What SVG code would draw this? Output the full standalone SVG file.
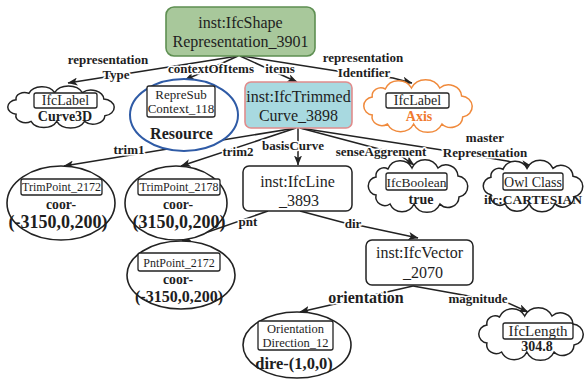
<svg xmlns="http://www.w3.org/2000/svg" xmlns:xlink="http://www.w3.org/1999/xlink" width="585" height="379" viewBox="0 0 585 379">
<style>
text{font-family:"Liberation Serif","Times New Roman",serif;fill:#1e1e1e;text-anchor:middle}
.nt{font-size:16px}
.in{font-size:14px}
.sm{font-size:12px}
.bv{font-weight:bold;font-size:14px}
.bb{font-weight:bold;font-size:17px}
.lbl{font-weight:bold;font-size:13px;stroke:#fff;stroke-width:3;paint-order:stroke;stroke-linejoin:round}
.edge{fill:none;stroke:#222;stroke-width:1.5;marker-end:url(#arr)}
.box{fill:#fff;stroke:#222;stroke-width:1.5}
.ib{fill:#fff;stroke:#222;stroke-width:1.3}
.ell{fill:#fff;stroke:#222;stroke-width:1.6}
.cloud{fill:#fff;stroke:#222;stroke-width:1.5}
</style>
<defs>
<marker id="arr" viewBox="0 0 10 8" refX="9.5" refY="4" markerWidth="10" markerHeight="8" orient="auto" markerUnits="userSpaceOnUse">
<path d="M0,0 L10,4 L0,8 L2.5,4 z" fill="#222"/>
</marker>
<path id="cloudShape" vector-effect="non-scaling-stroke" d="M-42,-9 A8,8 0 0 1 -30,-17 A13.2,13.2 0 0 1 -6,-18 A14.3,14.3 0 0 1 20,-18 A12,12 0 0 1 40,-10 A10.6,10.6 0 0 1 41,11 A11,11 0 0 1 22,18 A14.3,14.3 0 0 1 -4,18 A13.2,13.2 0 0 1 -28,18 A9,9 0 0 1 -42,9 A9.1,9.1 0 0 1 -42,-9 Z"/>
</defs>
<rect width="585" height="379" fill="#fff"/>

<g id="connectors">
<path class="edge" d="M238,56 L68,83"/>
<path class="edge" d="M238,56 L185,80"/>
<path class="edge" d="M240,56 L297,82"/>
<path class="edge" d="M242,56 L337,71 L393,78 L412,83"/>
<path class="edge" d="M296,128 L64,166"/>
<path class="edge" d="M296,128 L181,166"/>
<path class="edge" d="M298,128 L298,165"/>
<path class="edge" d="M300,128 L398,154 L414,165"/>
<path class="edge" d="M300,128 L442,150 L507,161 L531,166"/>
<path class="edge" d="M268,211 L182,241"/>
<path class="edge" d="M300,211 L345,223 L362,226 L418,238"/>
<path class="edge" d="M413,286 L300,312"/>
<path class="edge" d="M413,286 L452,293 L508,303 L528,312"/>
<text class="lbl" x="108" y="63.5">representation</text>
<text class="lbl" x="116" y="79">Type</text>
<text class="lbl" x="211" y="73">contextOfItems</text>
<text class="lbl" x="280" y="73">items</text>
<text class="lbl" x="363" y="61.5">representation</text>
<text class="lbl" x="364" y="77">Identifier</text>
<text class="lbl" x="129" y="154">trim1</text>
<text class="lbl" x="238" y="156">trim2</text>
<text class="lbl" x="293" y="150">basisCurve</text>
<text class="lbl" x="381" y="156">senseAggrement</text>
<text class="lbl" x="485" y="141.5">master</text>
<text class="lbl" x="485" y="157">Representation</text>
<text class="lbl" x="248" y="226">pnt</text>
<text class="lbl" x="353" y="228">dir</text>
<text class="lbl" x="366" y="303" style="font-size:16px">orientation</text>
<text class="lbl" x="478" y="303">magnitude</text>
</g>

<g id="ifcShapeRepresentation">
<rect x="166" y="7" width="149" height="49" rx="8" fill="#a8c89b" stroke="#5e8f52" stroke-width="1.6"/>
<text class="nt" x="240.5" y="28">inst:IfcShape</text>
<text class="nt" x="240.5" y="47">Representation_3901</text>
</g>

<g id="curve3D">
<use href="#cloudShape" class="cloud" transform="translate(61,107) scale(1.07,0.8)"/>
<rect class="ib" x="34" y="93" width="63" height="15" rx="2"/>
<text class="in" x="65.5" y="105">IfcLabel</text>
<text class="bv" x="65" y="121">Curve3D</text>
</g>

<g id="resource">
<ellipse cx="184" cy="115" rx="54" ry="36" fill="#fff" stroke="#2f5ba6" stroke-width="2"/>
<rect class="ib" x="147" y="86" width="68" height="31" rx="2"/>
<text class="in" x="181" y="98.5" style="font-size:13px">RepreSub</text>
<text class="in" x="181" y="113" style="font-size:13px">Context_118</text>
<text class="bb" x="181.5" y="139" style="font-size:16px">Resource</text>
</g>

<g id="ifcTrimmedCurve">
<rect x="245" y="82" width="107" height="46" rx="6" fill="#a8d9e0" stroke="#e08c8c" stroke-width="1.6"/>
<text class="nt" x="298.5" y="102">inst:IfcTrimmed</text>
<text class="nt" x="298.5" y="121">Curve_3898</text>
</g>

<g id="axis">
<use href="#cloudShape" class="cloud" style="stroke:#f08a3c" transform="translate(418,106) scale(1.09,1)"/>
<rect class="ib" x="386" y="93" width="63" height="15" rx="2"/>
<text class="in" x="417.5" y="105">IfcLabel</text>
<text class="bv" x="419" y="121" style="fill:#f07a2e">Axis</text>
</g>

<g id="trimPoint2172">
<ellipse class="ell" cx="61" cy="203" rx="54" ry="37"/>
<rect class="ib" x="21" y="179" width="81" height="16" rx="2"/>
<text class="sm" x="61.5" y="191">TrimPoint_2172</text>
<text class="bb" x="61" y="209" style="font-size:15px" textLength="30" lengthAdjust="spacingAndGlyphs">coor-</text>
<text class="bb" x="58" y="228" style="font-size:18px">(-3150,0,200)</text>
</g>

<g id="trimPoint2178">
<ellipse class="ell" cx="176" cy="203" rx="51" ry="37"/>
<rect class="ib" x="138" y="179" width="82" height="16" rx="2"/>
<text class="sm" x="179" y="191">TrimPoint_2178</text>
<text class="bb" x="178" y="209" style="font-size:15px" textLength="30" lengthAdjust="spacingAndGlyphs">coor-</text>
<text class="bb" x="179" y="228" style="font-size:18px">(3150,0,200)</text>
</g>

<g id="ifcLine">
<rect class="box" x="243" y="166" width="109" height="45" rx="6"/>
<text class="nt" x="297.5" y="187">inst:IfcLine</text>
<text class="nt" x="299" y="206">_3893</text>
</g>

<g id="ifcBoolean">
<use href="#cloudShape" class="cloud" transform="translate(418,186)"/>
<rect class="ib" x="386" y="173" width="61" height="17" rx="2"/>
<text class="in" x="416.5" y="187" style="font-size:13.5px">IfcBoolean</text>
<text class="bv" x="421" y="204">true</text>
</g>

<g id="owlClass">
<use href="#cloudShape" class="cloud" transform="translate(533,186) scale(1,0.98)"/>
<rect class="ib" x="503" y="173" width="60" height="17" rx="2"/>
<text class="in" x="533" y="187">Owl Class</text>
<text class="bv" x="533" y="204" style="font-size:13.5px">ifc:CARTESIAN</text>
</g>

<g id="pntPoint2172">
<ellipse class="ell" cx="181" cy="275" rx="54" ry="34"/>
<rect class="ib" x="138" y="253" width="82" height="18" rx="2"/>
<text class="sm" x="179" y="267">PntPoint_2172</text>
<text class="bb" x="178" y="284" style="font-size:15px" textLength="30" lengthAdjust="spacingAndGlyphs">coor-</text>
<text class="bb" x="179" y="302" style="font-size:16px">(-3150,0,200)</text>
</g>

<g id="ifcVector">
<rect class="box" x="366" y="240" width="107" height="45" rx="6"/>
<text class="nt" x="419.5" y="258">inst:IfcVector</text>
<text class="nt" x="423" y="278">_2070</text>
</g>

<g id="orientationDirection12">
<ellipse class="ell" cx="297" cy="345" rx="54" ry="33"/>
<rect class="ib" x="258" y="321" width="75" height="29" rx="2"/>
<text class="in" x="295.5" y="333" style="font-size:12.5px">Orientation</text>
<text class="in" x="295.5" y="347" style="font-size:12.5px">Direction_12</text>
<text class="bb" x="294" y="369" style="font-size:16.5px">dire-(1,0,0)</text>
</g>

<g id="ifcLength">
<use href="#cloudShape" class="cloud" transform="translate(531,334) scale(1.05,1)"/>
<rect class="ib" x="503" y="323" width="70" height="16" rx="2"/>
<text class="in" x="538" y="336" style="font-size:15px">IfcLength</text>
<text class="bv" x="537" y="351">304.8</text>
</g>
</svg>
